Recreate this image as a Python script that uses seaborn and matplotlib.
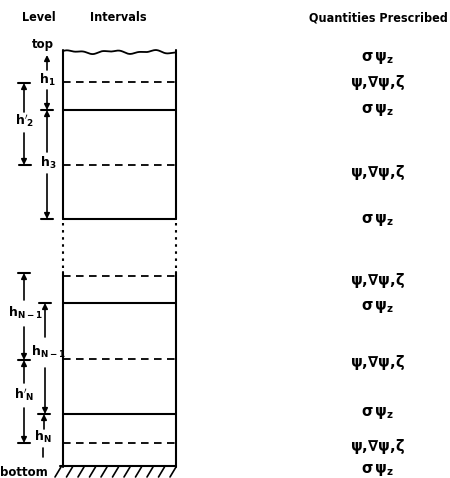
import numpy as np
import matplotlib
matplotlib.use("Agg")
import matplotlib.pyplot as plt
import seaborn as sns

sns.set_theme(style="white")
plt.rcParams["font.family"] = ["DejaVu Sans"]
plt.rcParams["mathtext.fontset"] = "dejavusans"

# Level structure of the vertical grid, top to bottom
level_kinds = ["top", "half", "full", "half", "full",
               "half", "full", "half", "full", "half", "bottom"]
level_rows = [52, 82, 110, 165, 219, 276, 303, 359, 414, 443, 466]

# Quantities prescribed at each level
SIG = r"$\mathregular{\sigma\,\psi_z}$"
PSI = r"$\mathregular{\psi,\!\nabla\psi,\!\zeta}$"
quantities = [SIG, PSI, SIG, PSI, SIG, PSI, SIG, PSI, SIG, PSI, SIG]
quantity_rows = [58, 82, 110, 172, 220, 280, 307, 362, 413, 447, 470]

headers = ["Level", "Intervals", "Quantities Prescribed"]

fig = plt.figure(figsize=(4.5, 4.78), dpi=100)
ax = fig.add_axes([0, 0, 1, 1])
ax.set_xlim(0, 450)
ax.set_ylim(478, 0)
ax.axis("off")

ink = "black"
xl, xr = 63, 176
gap_top, gap_bot = 219, 272
lw = 1.5

# column sides: solid, with a dotted break in the middle
for x in (xl, xr):
    ax.plot([x, x], [50, gap_top], color=ink, lw=lw)
    ax.plot([x, x], [gap_bot, 467], color=ink, lw=lw)
    ax.plot([x, x], [gap_top + 4, gap_bot - 2], color=ink, lw=lw,
            linestyle=(0, (1.2, 2.2)))

# level lines
for kind, y in zip(level_kinds, level_rows):
    if kind == "top":
        xs = np.linspace(xl, xr, 200)
        ys = y + 1.3 * np.sin(xs / 6.5) + 0.8 * np.sin(xs / 2.9 + 1.0)
        ax.plot(xs, ys, color=ink, lw=1.3)
    elif kind == "half":
        ax.plot([xl, xr], [y, y], color=ink, lw=1.3, dashes=(4.2, 3.0))
    elif kind == "full":
        ax.plot([xl, xr], [y, y], color=ink, lw=lw)
    else:
        ax.plot([xl - 3, xr], [y, y], color=ink, lw=lw)
        for xh in np.arange(55, 175, 11.5):
            ax.plot([xh, xh + 6], [477, 467], color=ink, lw=1.2)

# quantities column
for q, y in zip(quantities, quantity_rows):
    ax.text(378, y, q, ha="center", va="center", fontsize=10.5,
            fontweight="bold", color=ink)

# headers
hfont = dict(fontsize=9, fontweight="bold", fontstretch="condensed",
             va="center", color=ink)
ax.text(39, 17, headers[0], ha="center", **hfont)
ax.text(118, 17, headers[1], ha="center", **hfont)
ax.text(378, 18, headers[2], ha="center", **hfont)


def arrow(x, y0, y1):
    ax.annotate("", xy=(x, y1), xytext=(x, y0),
                arrowprops=dict(arrowstyle="-|>", color=ink, lw=1.2,
                                mutation_scale=8, shrinkA=0, shrinkB=0))


def bar(x, y, half=6):
    ax.plot([x - half, x + half], [y, y], color=ink, lw=1.5)


def label(x, y, sub, prime=False):
    mark = "'" if prime else ""
    s = r"$\mathregular{h}" + mark + r"_{\mathregular{" + sub + "}}$"
    ax.text(x, y, s, ha="center", va="center",
            fontsize=9, fontweight="bold", color=ink)


# inner interval markers (h)
ax.text(43, 44, "top", ha="center", va="center", fontsize=8.5,
        fontweight="bold", color=ink)
arrow(47, 70, 55)
label(47, 80, "1")
arrow(47, 90, 110)
bar(47, 110)
arrow(47, 152, 110)
label(48, 163, "3")
arrow(47, 174, 219)
bar(47, 219)

bar(45, 303)
arrow(45, 337, 303)
label(48, 352, "N-1")
arrow(45, 368, 414)
bar(44, 414)
arrow(44, 429, 414)
label(43, 437, "N")
ax.plot([43, 43], [448, 457], color=ink, lw=1.2)
ax.text(24, 473, "bottom", ha="center", va="center", fontsize=8.5,
        fontweight="bold", color=ink)

# outer interval markers (h')
bar(24, 83)
arrow(24, 112, 83)
label(25, 121, "2", prime=True)
arrow(24, 133, 165)
bar(25, 165)

bar(24, 273)
arrow(24, 300, 273)
label(25, 313, "N-1")
arrow(24, 327, 360)
bar(24, 360)
arrow(24, 383, 360)
label(24, 395, "N", prime=True)
arrow(24, 408, 443)
bar(24, 443)

fig.savefig("out.png", dpi=100, facecolor="white")
